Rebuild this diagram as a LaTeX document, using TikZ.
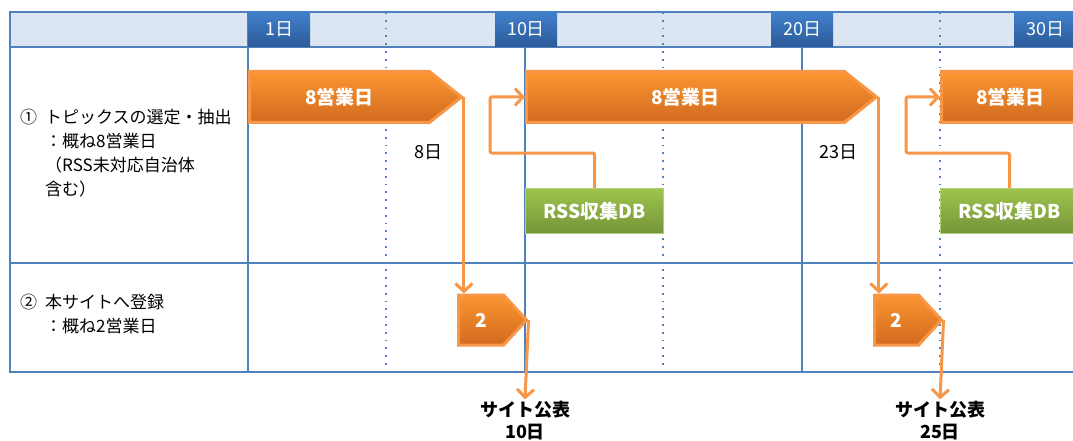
\documentclass[tikz,border=0pt]{standalone}
\usepackage{fontspec}
\setmainfont{Noto Sans CJK JP}
\usepackage{tikz}
\usetikzlibrary{positioning,calc,arrows.meta,shapes.symbols}
\definecolor{gridblue}{RGB}{79,129,189}
\definecolor{headfill}{RGB}{220,230,242}
\definecolor{headtop}{RGB}{66,128,204}
\definecolor{headbot}{RGB}{42,90,152}
\definecolor{orangetop}{RGB}{250,150,50}
\definecolor{orangebot}{RGB}{210,106,30}
\definecolor{orangeline}{RGB}{247,150,70}
\definecolor{greentop}{RGB}{158,196,76}
\definecolor{greenbot}{RGB}{118,148,58}
\definecolor{greenline}{RGB}{175,208,118}
\tikzstyle{line} = [draw=gridblue,line width=1.5pt]
\tikzstyle{dotline} = [draw=gridblue,line width=1.8pt,dash pattern=on 1.8pt off 6pt]
\tikzstyle{daycell} = [rectangle,top color=headtop,bottom color=headbot,text=white,minimum width=62pt,minimum height=35pt,inner sep=0pt,font=\fontsize{18}{18}\selectfont]
\tikzstyle{taskarrow} = [signal,signal to=east,top color=orangetop,bottom color=orangebot,draw=orangeline,line width=3pt,text=white,inner sep=0pt,font=\bfseries\fontsize{19}{19}\selectfont]
\tikzstyle{dbbox} = [rectangle,top color=greentop,bottom color=greenbot,draw=greenline,line width=1pt,text=white,minimum width=138pt,minimum height=45pt,inner sep=0pt,font=\bfseries\fontsize{19}{19}\selectfont]
\tikzstyle{flow} = [draw=orangeline,line width=3pt,-{Straight Barb[length=8pt,width=17pt]}]
\tikzstyle{rowtext} = [align=left,anchor=north west,inner sep=0pt,font=\fontsize{17}{24}\selectfont]
\tikzstyle{daytext} = [inner sep=0pt,font=\fontsize{18}{18}\selectfont]
\tikzstyle{pubtext} = [align=center,inner sep=2pt,font=\bfseries\fontsize{18}{22}\selectfont]

\begin{document}
\begin{tikzpicture}[x=1pt,y=-1pt]
  \useasboundingbox (0,0) rectangle (1073,441);
  % table
  \fill[headfill] (10,12) rectangle (1080,47);
  \foreach \x in {386,663,940}
    \draw[dotline] (\x,12) -- (\x,372);
  \foreach \x in {248,525,802}
    \draw[line] (\x,12) -- (\x,372);
  \draw[line] (10,12) rectangle (1080,372);
  \draw[line] (10,47) -- (1080,47);
  \draw[line] (10,263) -- (1080,263);
  % days
  \node[daycell,anchor=west] (d1) at (248,29.5) {1日};
  \node[daycell] (d10) at (526,29.5) {10日};
  \node[daycell] (d20) at (802,29.5) {20日};
  \node[daycell,anchor=west] (d30) at (1014,29.5) {30日};
  % row labels
  \node[rowtext] (n1) at (20,109) {①};
  \node[rowtext] (t1) at (45,109) {トピックスの選定・抽出\\：概ね8営業日\\（RSS未対応自治体\\含む）};
  \node[rowtext] (n2) at (20,294) {②};
  \node[rowtext] (t2) at (45,294) {本サイトへ登録\\：概ね2営業日};
  % tasks
  \node[taskarrow,anchor=west,minimum width=212pt,minimum height=51pt,signal pointer angle=77] (a1) at (248,97) {8営業日};
  \node[taskarrow,anchor=west,minimum width=350pt,minimum height=51pt,signal pointer angle=77] (a2) at (525,97) {8営業日};
  \node[taskarrow,anchor=west,minimum width=170pt,minimum height=51pt,signal pointer angle=77] (a3) at (940,97) {8営業日};
  \node[taskarrow,anchor=west,minimum width=68pt,minimum height=50pt,signal pointer angle=95] (b1) at (457,320) {2};
  \node[taskarrow,anchor=west,minimum width=67pt,minimum height=50pt,signal pointer angle=95] (b2) at (873,320) {2};
  \node[dbbox,anchor=north west] (rss1) at (525,188) {RSS収集DB};
  \node[dbbox,anchor=north west] (rss2) at (940,188) {RSS収集DB};
  \coordinate (bend1) at (490,153);
  \coordinate (bend2) at (906,153);
  % days elapsed
  \node[daytext] (e8) at (428,152) {8日};
  \node[daytext] (e23) at (838,152) {23日};
  \node[pubtext] (pub1) at (525,421) {サイト公表\\10日};
  \node[pubtext] (pub2) at (940,421) {サイト公表\\25日};
  % flows
  \draw[flow] (a1.east) -- (a1.east |- b1.north);
  \draw[flow] (b1.east) -- (pub1.north);
  \draw[flow,rounded corners=2pt] (rss1.north) |- (bend1) |- (a2.west);
  \draw[flow] (a2.east) -- (a2.east |- b2.north);
  \draw[flow] (b2.east) -- (pub2.north);
  \draw[flow,rounded corners=2pt] (rss2.north) |- (bend2) |- (a3.west);
\end{tikzpicture}
\end{document}
